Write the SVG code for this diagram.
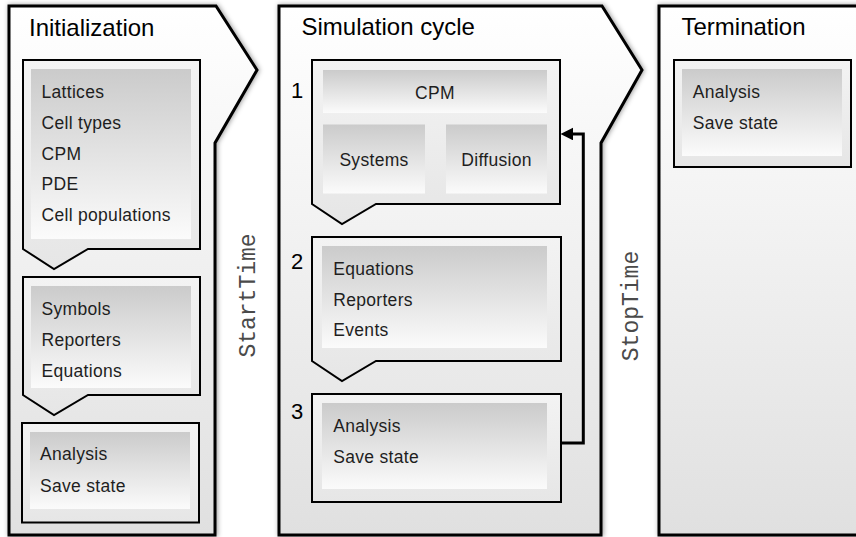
<svg xmlns="http://www.w3.org/2000/svg" width="856" height="537" viewBox="0 0 856 537">
<defs>
<linearGradient id="panelGrad" x1="0" y1="0" x2="0" y2="1">
<stop offset="0" stop-color="#ffffff"/>
<stop offset="1" stop-color="#e0e0e0"/>
</linearGradient>
<linearGradient id="boxGrad" x1="0" y1="0" x2="0" y2="1">
<stop offset="0" stop-color="#f3f3f3"/>
<stop offset="1" stop-color="#e6e6e6"/>
</linearGradient>
<linearGradient id="itemGrad" x1="0" y1="0" x2="0" y2="1">
<stop offset="0" stop-color="#cbcbcb"/>
<stop offset="1" stop-color="#fbfbfb"/>
</linearGradient>
<filter id="shadow" x="-10%" y="-10%" width="120%" height="120%">
<feDropShadow dx="1" dy="0" stdDeviation="2.5" flood-color="#000" flood-opacity="0.4"/>
</filter>
<marker id="arrow" markerUnits="userSpaceOnUse" markerWidth="13" markerHeight="13" refX="0" refY="6.3" orient="auto">
<path d="M0,0 L12.5,6.3 L0,12.6 Z" fill="#000"/>
</marker>
</defs>
<style>
.panel{fill:url(#panelGrad);stroke:#000;stroke-width:3;stroke-linejoin:miter;filter:url(#shadow)}
.box{fill:url(#boxGrad);stroke:#000;stroke-width:2;stroke-linejoin:miter}
.item{fill:url(#itemGrad)}
.title{font-family:"Liberation Sans",Arial,sans-serif;font-size:24px;fill:#000}
.txt{font-family:"Liberation Sans",Arial,sans-serif;font-size:17.5px;letter-spacing:0.3px;fill:#1e1e1e}
.num{font-family:"Liberation Sans",Arial,sans-serif;font-size:22px;fill:#000}
.mono{font-family:"Liberation Mono","Courier New",monospace;font-size:23px;fill:#4a4a4a}
.conn{fill:none;stroke:#000;stroke-width:3}
</style>

<g id="initialization">
<path class="panel" d="M9,6 H216 L257,70 L215,143 V535 H9 Z"/>
<text class="title" x="29" y="36">Initialization</text>
<g id="init-setup">
<path class="box" d="M23,60 H200 V249 H88 L54,269 L23,249 Z"/>
<rect class="item" x="31" y="69" width="160" height="170"/>
<text class="txt" x="41.5" y="98">Lattices</text>
<text class="txt" x="41.5" y="129">Cell types</text>
<text class="txt" x="41.5" y="159.5">CPM</text>
<text class="txt" x="41.5" y="190">PDE</text>
<text class="txt" x="41.5" y="220.5">Cell populations</text>
</g>
<g id="init-symbols">
<path class="box" d="M23,277 H200 V395 H88 L54,415 L23,395 Z"/>
<rect class="item" x="31" y="286" width="160" height="102"/>
<text class="txt" x="41.5" y="315">Symbols</text>
<text class="txt" x="41.5" y="346">Reporters</text>
<text class="txt" x="41.5" y="376.5">Equations</text>
</g>
<g id="init-analysis">
<path class="box" d="M22,423 H199 V522.5 H22 Z"/>
<rect class="item" x="30" y="432" width="160" height="77"/>
<text class="txt" x="40" y="460">Analysis</text>
<text class="txt" x="40" y="491.5">Save state</text>
</g>
</g>

<g id="starttime">
<text class="mono" transform="translate(255,295.5) rotate(-90)" text-anchor="middle">StartTime</text>
</g>

<g id="simulation">
<path class="panel" d="M279,6 H602 L642,70 L601,143 V535 H279 Z"/>
<text class="title" x="301.5" y="35">Simulation cycle</text>
<g id="sim-step1">
<text class="num" x="291" y="98">1</text>
<path class="box" d="M312,60 H560 V204 H376 L342,224 L312,204 Z"/>
<rect class="item" x="323" y="70" width="224" height="43"/>
<text class="txt" x="435" y="99" text-anchor="middle">CPM</text>
<rect class="item" x="323" y="124.5" width="102" height="69"/>
<text class="txt" x="374" y="166" text-anchor="middle">Systems</text>
<rect class="item" x="446" y="124.5" width="101" height="69"/>
<text class="txt" x="496.5" y="166" text-anchor="middle">Diffusion</text>
</g>
<g id="sim-step2">
<text class="num" x="291" y="269">2</text>
<path class="box" d="M312,237 H561 V361 H376 L342,381 L312,361 Z"/>
<rect class="item" x="322" y="246" width="225" height="102"/>
<text class="txt" x="333.3" y="274.5">Equations</text>
<text class="txt" x="333.3" y="306">Reporters</text>
<text class="txt" x="333.3" y="335.7">Events</text>
</g>
<g id="sim-step3">
<text class="num" x="291" y="419.3">3</text>
<path class="box" d="M312,394 H561 V502 H312 Z"/>
<rect class="item" x="322" y="403" width="225" height="86"/>
<text class="txt" x="333.3" y="431.5">Analysis</text>
<text class="txt" x="333.3" y="462.5">Save state</text>
</g>
</g>

<g id="stoptime">
<text class="mono" transform="translate(638,306) rotate(-90)" text-anchor="middle">StopTime</text>
</g>

<g id="termination">
<path class="panel" d="M659,6 H866 V535 H659 Z"/>
<text class="title" x="681.5" y="35">Termination</text>
<g id="term-analysis">
<path class="box" d="M674,60 H851 V167 H674 Z"/>
<rect class="item" x="682" y="69" width="160" height="87"/>
<text class="txt" x="692.7" y="98">Analysis</text>
<text class="txt" x="692.7" y="129">Save state</text>
</g>
</g>

<g id="connectors">
<path class="conn" d="M561,443 H583.3 V134 H573" marker-end="url(#arrow)"/>
</g>
</svg>
